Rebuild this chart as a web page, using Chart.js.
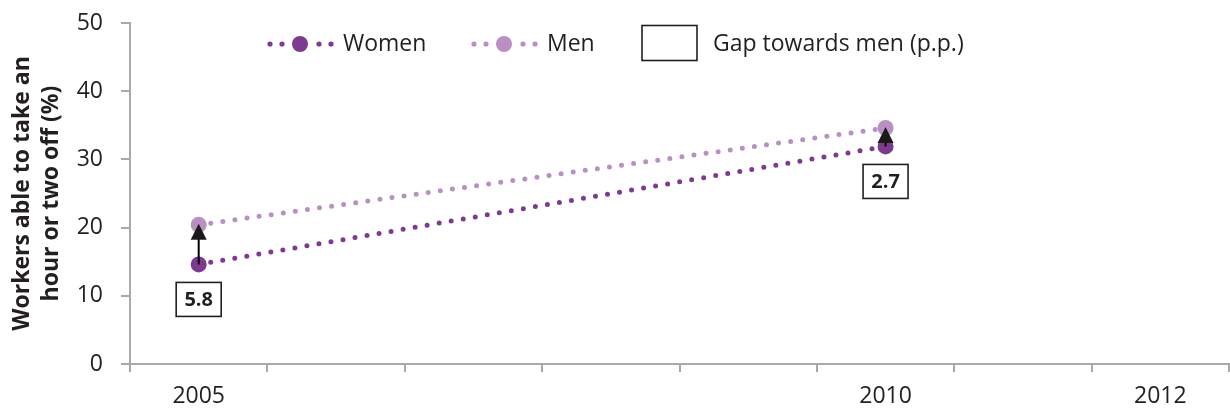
<!DOCTYPE html>
<html>
<head>
<meta charset="utf-8">
<script src="https://cdn.jsdelivr.net/npm/chart.js@4"></script>
<style>
  html, body { margin: 0; padding: 0; background: #fff; }
  #wrap { width: 1230px; height: 410px; }
</style>
</head>
<body>
<div id="wrap"><canvas id="c" width="1230" height="410"></canvas></div>
<script>
// Survey years on the category axis, and which of them carry a label
const years = ['2005', '2006', '2007', '2008', '2009', '2010', '2011', '2012'];
const labeledYears = ['2005', '2010', '2012'];

// Share of workers able to take an hour or two off (%)
const women = [14.6, null, null, null, null, 31.9, null, null];
const men   = [20.4, null, null, null, null, 34.6, null, null];

const seriesNames = ['Women', 'Men', 'Gap towards men (p.p.)'];
const yTitle = ['Workers able to take an', 'hour or two off (%)'];

const WOMEN_COLOR = '#7e3a8e';
const MEN_COLOR = '#b890c2';
const AXIS_COLOR = '#a9a9a9';
const TEXT_COLOR = '#231f20';
const FONT = '"Open Sans", "Noto Sans", sans-serif';

// Arrows from the women's to the men's value, with the gap in a boxed label
const gapPlugin = {
  id: 'gapArrows',
  afterDatasetsDraw(chart) {
    const { ctx, scales: { x, y } } = chart;
    ctx.save();
    years.forEach((yr, i) => {
      if (women[i] == null || men[i] == null) return;
      const px = x.getPixelForValue(i);
      const yw = y.getPixelForValue(women[i]);
      const ym = y.getPixelForValue(men[i]);
      const headH = 16, headW = 16;
      const tip = ym - 1;
      // shaft
      ctx.strokeStyle = '#000';
      ctx.lineWidth = 2;
      ctx.beginPath();
      ctx.moveTo(px, yw);
      ctx.lineTo(px, tip + headH - 1);
      ctx.stroke();
      // head
      ctx.fillStyle = '#1a1a1a';
      ctx.beginPath();
      ctx.moveTo(px, tip);
      ctx.lineTo(px - headW / 2, tip + headH);
      ctx.lineTo(px + headW / 2, tip + headH);
      ctx.closePath();
      ctx.fill();
      // boxed gap value
      const gap = (men[i] - women[i]).toFixed(1);
      const bw = 45, bh = 34;
      const cy = yw + 35;
      ctx.fillStyle = '#fff';
      ctx.fillRect(px - bw / 2, cy - bh / 2, bw, bh);
      ctx.strokeStyle = '#231f20';
      ctx.lineWidth = 1.6;
      ctx.strokeRect(px - bw / 2, cy - bh / 2, bw, bh);
      ctx.fillStyle = TEXT_COLOR;
      ctx.font = 'bold 20px ' + FONT;
      ctx.textAlign = 'center';
      ctx.textBaseline = 'middle';
      ctx.fillText(gap, px, cy + 1);
    });
    ctx.restore();
  }
};

// Legend row across the top of the plot
const legendPlugin = {
  id: 'topLegend',
  afterDraw(chart) {
    const { ctx } = chart;
    const cy = 44;
    ctx.save();
    ctx.font = '23px ' + FONT;
    ctx.textBaseline = 'middle';
    ctx.textAlign = 'left';
    const drawSample = (cx, color) => {
      ctx.fillStyle = color;
      [-30, -18, 19, 31].forEach(dx => {
        ctx.beginPath();
        ctx.arc(cx + dx, cy, 2.6, 0, Math.PI * 2);
        ctx.fill();
      });
      ctx.beginPath();
      ctx.arc(cx, cy, 8, 0, Math.PI * 2);
      ctx.fill();
    };
    drawSample(300, WOMEN_COLOR);
    ctx.fillStyle = TEXT_COLOR;
    ctx.fillText(seriesNames[0], 343, cy);
    drawSample(504, MEN_COLOR);
    ctx.fillStyle = TEXT_COLOR;
    ctx.fillText(seriesNames[1], 547, cy);
    ctx.strokeStyle = '#231f20';
    ctx.lineWidth = 1.6;
    ctx.strokeRect(642, 25.5, 55, 35);
    ctx.fillStyle = TEXT_COLOR;
    ctx.fillText(seriesNames[2], 713, cy);
    ctx.restore();
  }
};

const dotted = (color, data, label) => ({
  label,
  data,
  borderColor: color,
  backgroundColor: color,
  borderWidth: 5,
  borderDash: [0, 12.2],
  borderCapStyle: 'round',
  pointRadius: 8,
  pointHoverRadius: 8,
  pointBackgroundColor: color,
  pointBorderWidth: 0,
  spanGaps: true,
  tension: 0,
  clip: false
});

new Chart(document.getElementById('c'), {
  type: 'line',
  data: {
    labels: years,
    datasets: [dotted(MEN_COLOR, men, seriesNames[1]), dotted(WOMEN_COLOR, women, seriesNames[0])]
  },
  options: {
    responsive: false,
    animation: false,
    events: [],
    layout: { autoPadding: false, padding: { top: 23, right: 1, left: 0, bottom: 0 } },
    plugins: { legend: { display: false }, tooltip: { enabled: false }, title: { display: false } },
    scales: {
      x: {
        type: 'category',
        offset: true,
        afterFit: s => { s.height = 46; s.paddingLeft = 0; s.paddingRight = 0; },
        grid: { display: true, offset: true, drawOnChartArea: false, drawTicks: true, tickLength: 8, color: AXIS_COLOR, lineWidth: 2 },
        border: { display: true, color: AXIS_COLOR, width: 2 },
        ticks: {
          autoSkip: false, maxRotation: 0, padding: 11,
          color: TEXT_COLOR, font: { family: FONT, size: 23 },
          callback: function (v, i) { return labeledYears.includes(years[i]) ? years[i] : ''; }
        }
      },
      y: {
        min: 0, max: 50,
        afterFit: s => { s.width = 130; s.paddingTop = 0; s.paddingBottom = 0; },
        grid: { display: true, drawOnChartArea: false, drawTicks: true, tickLength: 9, color: AXIS_COLOR, lineWidth: 2 },
        border: { display: true, color: AXIS_COLOR, width: 2 },
        ticks: { stepSize: 10, padding: 18, color: TEXT_COLOR, font: { family: FONT, size: 23 } },
        title: {
          display: true, text: yTitle, color: TEXT_COLOR, padding: { top: 8, bottom: 0 },
          font: { family: FONT, size: 23, weight: 'bold', lineHeight: 1.25 }
        }
      }
    }
  },
  plugins: [gapPlugin, legendPlugin]
});
</script>
</body>
</html>
